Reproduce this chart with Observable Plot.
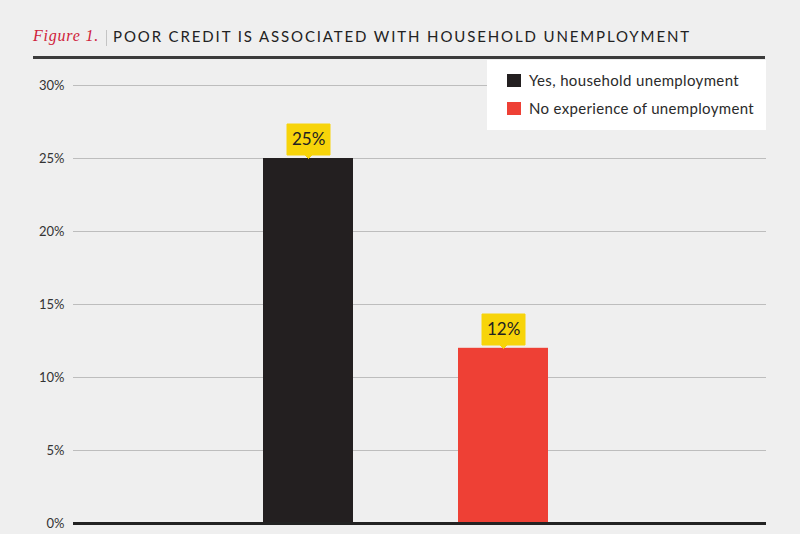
<!DOCTYPE html>
<html>
<head>
<meta charset="utf-8">
<script src="https://cdn.jsdelivr.net/npm/d3@7"></script>
<script src="https://cdn.jsdelivr.net/npm/@observablehq/plot@0.6"></script>
<style>
  body { margin: 0; background: #efefef; }
  #wrap { position: relative; width: 800px; height: 534px; background: #efefef; overflow: hidden; }
  #head { position: relative; height: 60px; }
  .abs { position: absolute; white-space: nowrap; }
  #fig { left: 33px; top: 28px; font: italic 16px/16px "Liberation Serif", serif; color: #d0223a; }
  #sep { left: 106px; top: 30px; width: 1px; height: 16px; background: #c4c4c4; }
  #ttl { left: 113px; top: 28px; font: 15px/16px Lato, sans-serif; color: #222; }
  #rule { left: 33px; top: 56px; width: 732px; height: 3px; background: #3b3b3b; }
  #legend { position: absolute; left: 487px; top: 60px; width: 279px; height: 70px; background: #fff; }
  .sw { position: absolute; left: 20px; width: 14px; height: 13px; }
  .lt { position: absolute; left: 42px; font: 15px/15px Lato, sans-serif; color: #2a2a2a; white-space: nowrap; }
</style>
</head>
<body>
<div id="wrap">
  <div id="head">
    <span id="fig" class="abs">Figure 1.</span>
    <div id="sep" class="abs"></div>
    <span id="ttl" class="abs">POOR CREDIT IS ASSOCIATED WITH HOUSEHOLD UNEMPLOYMENT</span>
    <div id="rule" class="abs"></div>
  </div>
  <div id="chart"></div>
  <div id="legend"></div>
</div>
<script>
// ---- data ----
const categories = ["Yes, household unemployment", "No experience of unemployment"];
const values = [25, 12];
const colors = ["#231f20", "#ee4035"];
const yTicks = [0, 5, 10, 15, 20, 25, 30];
const labelColor = "#f7d40a";

const data = categories.map((c, i) => ({category: c, value: values[i]}));

// ---- chart ----
const chart = Plot.plot({
  width: 800,
  height: 474,
  marginLeft: 73,
  marginRight: 34,
  marginTop: 25,
  marginBottom: 11,
  style: {background: "transparent", fontFamily: "Lato, sans-serif", fontSize: "13px", color: "#222"},
  x: {domain: categories, range: [158, 653], padding: 0.538, axis: null},
  y: {domain: [0, 30], axis: null},
  color: {domain: categories, range: colors},
  marks: [
    Plot.ruleY(yTicks.filter(d => d > 0), {stroke: "#bdbdbd", strokeWidth: 1}),
    Plot.axisY(yTicks, {tickSize: 0, tickPadding: 9, tickFormat: d => d + "%", fontSize: 13, fill: "#333", label: null}),
    Plot.barY(data, {x: "category", y: "value", fill: "category"}),
    Plot.ruleY([0], {stroke: "#222", strokeWidth: 3}),
    Plot.tip(data, {
      x: "category", y: "value", title: d => d.value + "%",
      anchor: "bottom", fill: labelColor, stroke: labelColor,
      pointerSize: 7, textPadding: 5, fontSize: 17, pathFilter: "none"
    })
  ]
});
document.getElementById("chart").appendChild(chart);

// ---- legend ----
const legend = document.getElementById("legend");
categories.forEach((c, i) => {
  const sw = document.createElement("div");
  sw.className = "sw";
  sw.style.top = (14 + i * 28) + "px";
  sw.style.background = colors[i];
  legend.appendChild(sw);
  const t = document.createElement("span");
  t.className = "lt";
  t.style.top = (13 + i * 28) + "px";
  t.textContent = c;
  legend.appendChild(t);
});

// fit letter spacing to the reference widths
function fit(el, target) {
  const n = el.textContent.length;
  const w = el.getBoundingClientRect().width;
  el.style.letterSpacing = ((target - w) / n) + "px";
}
fit(document.getElementById("ttl"), 578);
fit(document.getElementById("fig"), 66);
const lts = legend.querySelectorAll(".lt");
fit(lts[0], 210);
fit(lts[1], 225);
</script>
</body>
</html>
